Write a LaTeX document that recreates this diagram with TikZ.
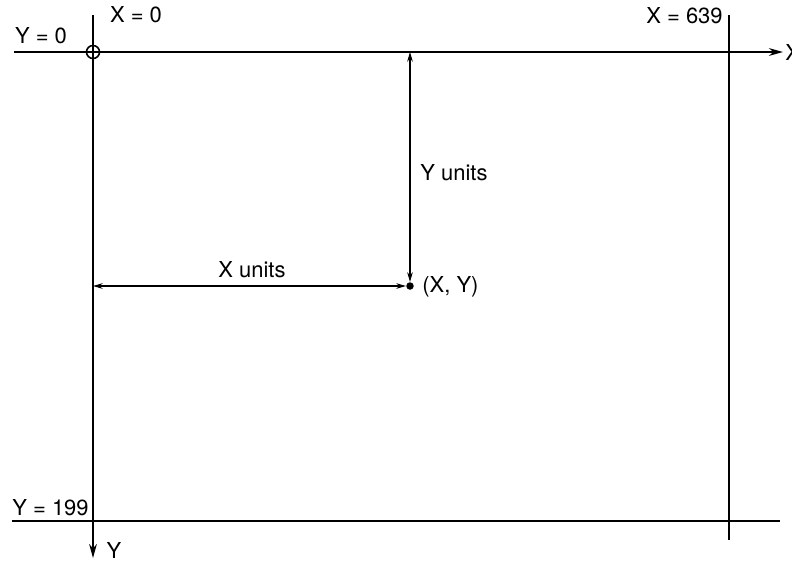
\documentclass[tikz,border=0pt]{standalone}
\usepackage{fontspec}
\setmainfont{TeX Gyre Heros}
\usetikzlibrary{arrows.meta}
\begin{document}
\begin{tikzpicture}[x=0.02cm, y=-0.02cm,
  axis/.style={line width=1.1pt},
  axis_arrow/.style={axis, -{Stealth[length=8pt, width=4.4pt]}},
  dim/.style={line width=0.6pt,
              {Stealth[length=5.5pt, width=3.2pt]}-{Stealth[length=5.5pt, width=3.2pt]}},
  label/.style={font=\fontsize{12.5}{14}\selectfont, inner sep=0pt},
  dot/.style={circle, fill, inner sep=0pt, minimum size=0.15cm}
]
  \useasboundingbox (0,0) rectangle (792,562);

  % axes
  \node[circle, draw, line width=0.9pt, inner sep=0pt, minimum size=0.26cm] (origin) at (93,52) {};
  \coordinate (x_start) at (14,52);
  \coordinate (x_end)   at (783,52);
  \coordinate (y_start) at (93,15);
  \coordinate (y_end)   at (93,558);
  \draw[axis_arrow] (x_start) -- (x_end);
  \draw[axis_arrow] (y_start) -- (y_end);
  \node[label, anchor=west] (x_lab) at (785,52) {X};
  \node[label] (y_lab) at (114,550) {Y};

  % screen limits
  \coordinate (right_top) at (729,15);
  \coordinate (right_bot) at (729,540);
  \coordinate (bot_left)  at (12,521);
  \coordinate (bot_right) at (780,521);
  \draw[axis] (right_top) -- (right_bot);
  \draw[axis] (bot_left) -- (bot_right);

  \node[label] (y0) at (41,36) {Y = 0};
  \node[label] (x0) at (136,15) {X = 0};
  \node[label, anchor=east] (x639) at (723,16) {X = 639};
  \node[label, anchor=east] (y199) at (89,508) {Y = 199};

  % point and distances
  \node[dot] (pt) at (410,286) {};
  \node[label, anchor=west] (pt_lab) at (422,287) {(X, Y)};
  \draw[dim] (pt |- origin) -- (pt);
  \draw[dim] (pt -| origin) -- (pt);
  \node[label, anchor=west] (y_units) at (420,173) {Y units};
  \node[label] (x_units) at (252,270) {X units};
\end{tikzpicture}
\end{document}
